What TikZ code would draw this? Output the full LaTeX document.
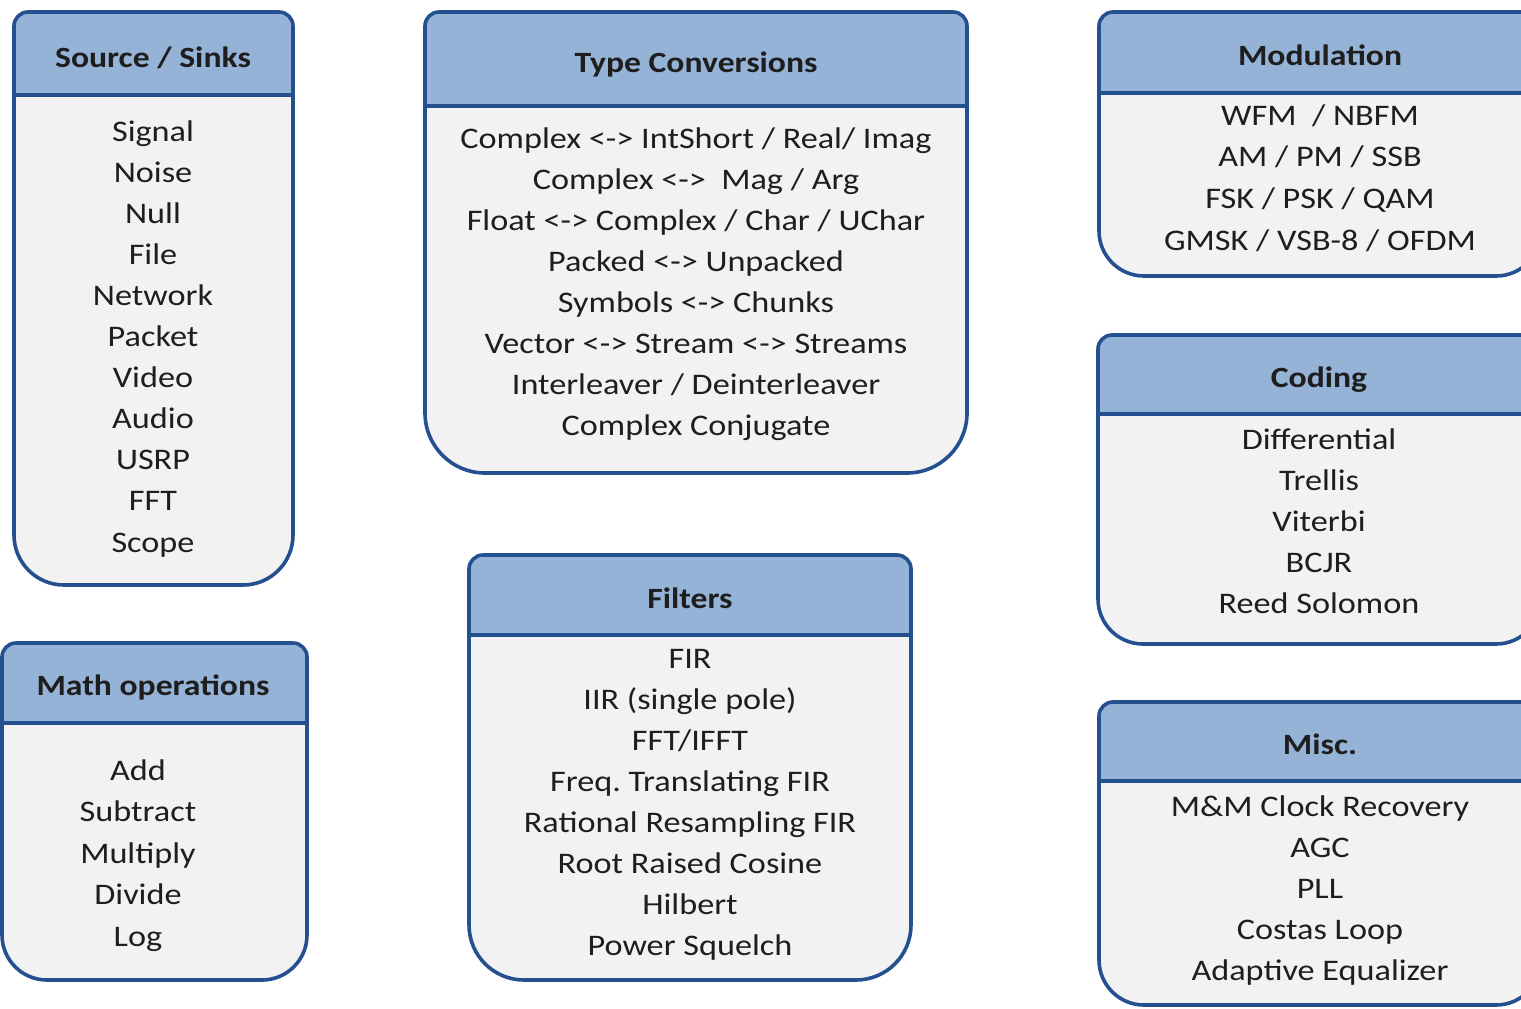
\documentclass[tikz,border=0pt]{standalone}
\usepackage{fontspec}
\setmainfont{Carlito}[FakeStretch=1.145]
\frenchspacing

\definecolor{edge}{HTML}{24508F}
\definecolor{headfill}{HTML}{95B3D7}
\definecolor{bodyfill}{HTML}{F2F2F2}
\definecolor{ink}{HTML}{1E1E1E}

\tikzset{
  frame/.style={draw=edge, line width=3.6bp},
  title/.style={font=\fontsize{29.5}{31}\selectfont\bfseries, text=ink, anchor=base, inner sep=0pt},
  item/.style={font=\fontsize{30}{36}\selectfont, text=ink, anchor=base, inner sep=0pt},
}

% #1 left, #2 right, #3 top, #4 header bottom, #5 bottom, #6 bottom corner radius
\newcommand\catbox[6]{%
  \fill[bodyfill] (#1,#4) -- (#1,#5-#6) arc[start angle=180,end angle=90,radius=#6]
    -- (#2-#6,#5) arc[start angle=90,end angle=0,radius=#6] -- (#2,#4) -- cycle;
  \fill[headfill] (#1,#4) -- (#1,#3+14) arc[start angle=180,end angle=270,radius=14]
    -- (#2-14,#3) arc[start angle=270,end angle=360,radius=14] -- (#2,#4) -- cycle;
  \draw[frame] (#1,#3+14) arc[start angle=180,end angle=270,radius=14]
    -- (#2-14,#3) arc[start angle=270,end angle=360,radius=14]
    -- (#2,#5-#6) arc[start angle=0,end angle=90,radius=#6]
    -- (#1+#6,#5) arc[start angle=90,end angle=180,radius=#6] -- cycle;
  \draw[frame] (#1,#4) -- (#2,#4);
}

\begin{document}
\begin{tikzpicture}[x=1bp, y=-1bp]
\useasboundingbox (0,0) rectangle (1521,1008);
\clip (0,0) rectangle (1521,1008);
\fill[white] (0,0) rectangle (1521,1008);

% Source / Sinks
\catbox{14}{293}{12}{95}{585}{50}
\node[title] (srcT) at (153,67) {Source / Sinks};
\foreach \t [count=\i from 0] in {Signal,Noise,Null,File,Network,Packet,Video,Audio,USRP,FFT,Scope}
  \node[item] (src\i) at (153,{141+41.1*\i}) {\t};

% Math operations
\catbox{2}{307}{643}{723}{980}{45}
\node[title] (mathT) at (153,695) {Math operations};
\foreach \t [count=\i from 0] in {Add,Subtract,Multiply,Divide,Log}
  \node[item] (math\i) at (138,{780+41.5*\i}) {\t};

% Type Conversions
\catbox{425}{967}{12}{106}{473}{60}
\node[title] (convT) at (696,72) {Type Conversions};
\foreach \t [count=\i from 0] in {{Complex <-> IntShort / Real/ Imag},{Complex <->~ Mag / Arg},
    {Float <-> Complex / Char / UChar},{Packed <-> Unpacked},{Symbols <-> Chunks},
    {Vector <-> Stream <-> Streams},{Interleaver / Deinterleaver},{Complex Conjugate}}
  \node[item] (conv\i) at (696,{148+41*\i}) {\t};

% Filters
\catbox{469}{911}{555}{635}{980}{55}
\node[title] (filtT) at (690,608) {Filters};
\foreach \t [count=\i from 0] in {FIR,{IIR (single pole)},FFT/IFFT,{Freq. Translating FIR},
    {Rational Resampling FIR},{Root Raised Cosine},Hilbert,{Power Squelch}}
  \node[item] (filt\i) at (690,{668+41.1*\i}) {\t};

% Modulation
\catbox{1099}{1541}{12}{93}{276}{45}
\node[title] (modT) at (1320,65) {Modulation};
\foreach \t [count=\i from 0] in {{WFM~ / NBFM},{AM / PM / SSB},{FSK / PSK / QAM},{GMSK / VSB-8 / OFDM}}
  \node[item] (mod\i) at (1320,{125+41.7*\i}) {\t};

% Coding
\catbox{1098}{1541}{335}{414}{644}{45}
\node[title] (codT) at (1319,387) {Coding};
\foreach \t [count=\i from 0] in {Differential,Trellis,Viterbi,BCJR,{Reed Solomon}}
  \node[item] (cod\i) at (1319,{449+41*\i}) {\t};

% Misc.
\catbox{1099}{1541}{702}{781}{1005}{45}
\node[title] (miscT) at (1320,754) {Misc.};
\foreach \t [count=\i from 0] in {{M\&M Clock Recovery},AGC,PLL,{Costas Loop},{Adaptive Equalizer}}
  \node[item] (misc\i) at (1320,{816+41*\i}) {\t};
\end{tikzpicture}
\end{document}
